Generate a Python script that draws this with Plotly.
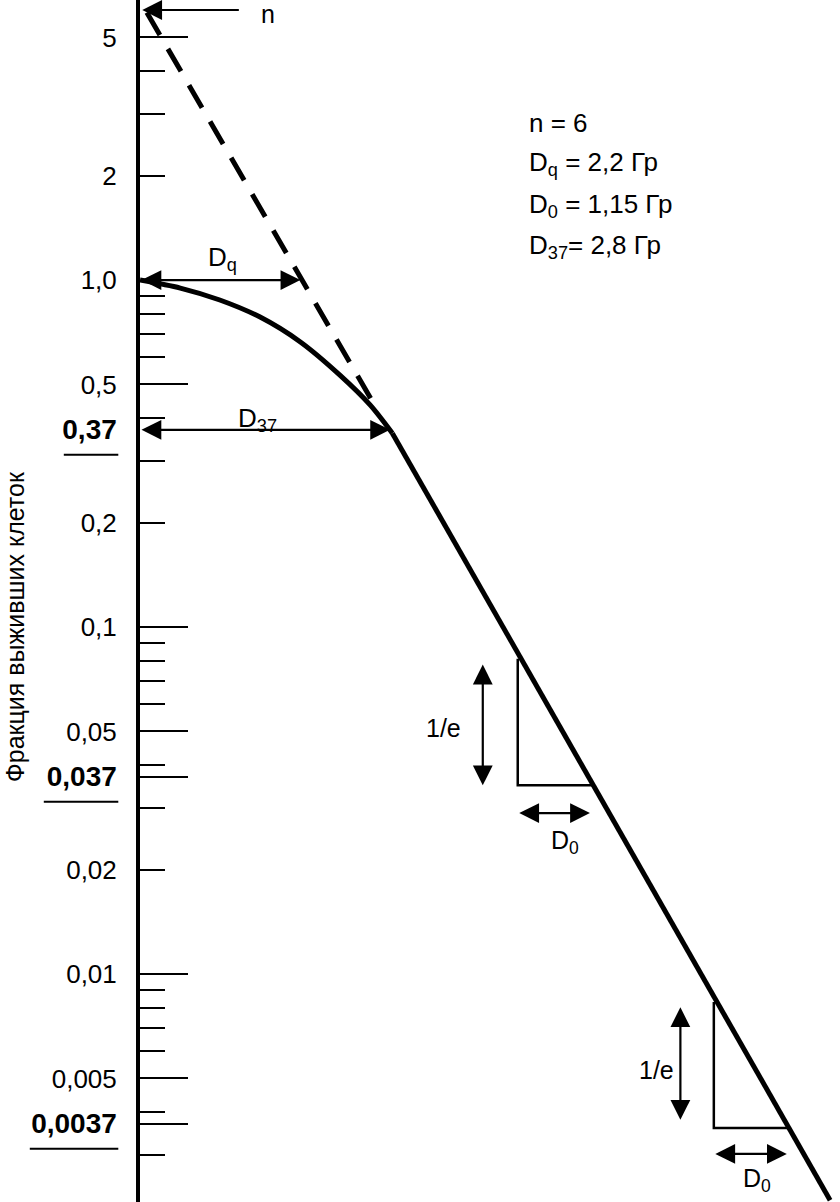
import numpy as np
import plotly.graph_objects as go

# ---------------- data ----------------
# dose axis is schematic (hidden); surviving fraction on log axis
shoulder_dose = [0.00, 0.53, 1.05, 1.58, 2.11, 2.63, 3.03, 3.32]
shoulder_surv = [1.0, 0.948, 0.876, 0.782, 0.663, 0.532, 0.436, 0.362]

line_dose = [3.32, 9.08]
line_surv = [0.362, 0.00223]

extrap_dose = [0.09, 3.07]
extrap_surv = [5.9, 0.442]

tri1_dose = [4.97, 4.97, 5.95]
tri1_surv = [0.081, 0.035, 0.035]
tri2_dose = [7.55, 7.55, 8.54]
tri2_surv = [0.0083, 0.0036, 0.0036]

n_value = 6.0
dq_dose = 2.11
d37_dose = 3.29
d37_surv = 0.37
inv_e_1 = dict(dose=4.51, top=0.0787, bottom=0.035)
inv_e_2 = dict(dose=7.11, top=0.0081, bottom=0.0038)
d0_1 = dict(surv=0.0291, start=4.97, end=5.92)
d0_2 = dict(surv=0.00303, start=7.55, end=8.51)

tick_vals = [5, 2, 1, 0.5, 0.37, 0.2, 0.1, 0.05, 0.037, 0.02, 0.01, 0.005, 0.0037]
tick_text = ["5", "2", "1,0", "0,5", "0,37", "0,2", "0,1", "0,05", "0,037",
             "0,02", "0,01", "0,005", "0,0037"]
bold_ticks = [0.37, 0.037, 0.0037]
long_ticks = [5, 0.5, 0.1, 0.05, 0.037, 0.01, 0.005, 0.0037]
short_ticks = [4, 3, 2, 0.9, 0.8, 0.7, 0.6, 0.4, 0.3, 0.2, 0.09, 0.08, 0.07, 0.06,
               0.04, 0.03, 0.02, 0.009, 0.008, 0.007, 0.006, 0.004, 0.003]

params = ["n = 6", "D<sub>q</sub> = 2,2 Гр", "D<sub>0</sub> = 1,15 Гр", "D<sub>37</sub>= 2,8 Гр"]
y_title = "Фракция выживших клеток"

# ---------------- figure ----------------
FONT = "Liberation Sans, Arial, sans-serif"
Y_RANGE = [-2.657, 0.807]
X_RANGE = [0, 9.21]

fig = go.Figure()
fig.add_trace(go.Scatter(x=shoulder_dose, y=shoulder_surv, mode="lines",
                         line=dict(color="black", width=5, shape="spline", smoothing=0.8),
                         hoverinfo="skip"))
fig.add_trace(go.Scatter(x=line_dose, y=line_surv, mode="lines",
                         line=dict(color="black", width=5), hoverinfo="skip"))
fig.add_trace(go.Scatter(x=extrap_dose, y=extrap_surv, mode="lines",
                         line=dict(color="black", width=5, dash="26px,16px"), hoverinfo="skip"))
for td, ts in [(tri1_dose, tri1_surv), (tri2_dose, tri2_surv)]:
    fig.add_trace(go.Scatter(x=td, y=ts, mode="lines",
                             line=dict(color="black", width=2.5), hoverinfo="skip"))
fig.add_trace(go.Scatter(x=[0], y=[1], yaxis="y2", mode="markers",
                         marker=dict(opacity=0), hoverinfo="skip"))

ticktext_fmt = []
for v, t in zip(tick_vals, tick_text):
    if v in bold_ticks:
        ticktext_fmt.append(f"<span style='font-size:28px'><b>{t}</b></span>")
    else:
        ticktext_fmt.append(t)

fig.update_layout(
    width=840, height=1202,
    margin=dict(l=140, r=0, t=0, b=0),
    plot_bgcolor="white", paper_bgcolor="white",
    showlegend=False,
    font=dict(family=FONT, color="black"),
    xaxis=dict(range=X_RANGE, visible=False),
    yaxis=dict(type="log", range=Y_RANGE, tickmode="array", tickvals=tick_vals,
               ticktext=ticktext_fmt, ticks="", showgrid=False, zeroline=False,
               showline=True, linecolor="black", linewidth=4,
               tickfont=dict(size=26, family=FONT, color="black"),
               ticklabelstandoff=14),
    yaxis2=dict(type="log", range=Y_RANGE, overlaying="y", side="left", anchor="x",
                tickmode="array", tickvals=long_ticks, ticks="inside", ticklen=48,
                tickwidth=2, tickcolor="black", showticklabels=False, showgrid=False,
                zeroline=False, showline=False,
                minor=dict(tickmode="array", tickvals=short_ticks, ticks="inside",
                           ticklen=25, tickwidth=2, tickcolor="black", showgrid=False)),
)

ann = []
ARW = dict(showarrow=True, arrowhead=2, arrowsize=1.8, arrowwidth=2.2, arrowcolor="black",
           startarrowhead=2, startarrowsize=1.8,
           xref="x", yref="y", axref="x", ayref="y", text="")

def lg(v):
    return float(np.log10(v))

# n arrow (single head towards the axis)
ann.append(dict(ARW, x=0.03, y=lg(n_value), ax=1.32, ay=lg(n_value)))
# Dq arrow
ann.append(dict(ARW, x=dq_dose, y=0, ax=0.0, ay=0, arrowside="end+start"))
# D37 arrow
ann.append(dict(ARW, x=d37_dose, y=lg(d37_surv), ax=0.0, ay=lg(d37_surv), arrowside="end+start"))
# 1/e arrows
for a in (inv_e_1, inv_e_2):
    ann.append(dict(ARW, x=a["dose"], y=lg(a["bottom"]), ax=a["dose"], ay=lg(a["top"]),
                    arrowside="end+start"))
# D0 arrows
for a in (d0_1, d0_2):
    ann.append(dict(ARW, x=a["end"], y=lg(a["surv"]), ax=a["start"], ay=lg(a["surv"]),
                    arrowside="end+start"))

# labels
def label(text, x, y, size):
    return dict(text=text, x=x, y=y, xref="x", yref="y", showarrow=False,
                font=dict(size=size, family=FONT, color="black"),
                xanchor="center", yanchor="middle")

ann.append(label("n", 1.68, lg(5.84), 25))
ann.append(label("D<sub>q</sub>", 1.08, 0.0634, 26))
ann.append(label("D<sub>37</sub>", 1.55, -0.403, 26))
ann.append(label("1/e", 3.99, -1.291, 25))
ann.append(label("D<sub>0</sub>", 5.59, -1.62, 25))
ann.append(label("1/e", 6.80, -2.277, 25))
ann.append(label("D<sub>0</sub>", 8.12, -2.594, 25))

# parameters block
for txt, yp in zip(params, [0.898, 0.864, 0.829, 0.795]):
    ann.append(dict(text=txt, x=0.553, y=yp, xref="paper", yref="paper", showarrow=False,
                    xanchor="left", yanchor="middle",
                    font=dict(size=26, family=FONT, color="black")))

# axis title
ann.append(dict(text=y_title, x=-0.1786, y=0.479, xref="paper", yref="paper",
                showarrow=False, textangle=-90, xanchor="center", yanchor="middle",
                font=dict(size=25, family=FONT, color="black")))

# underlines of the bold tick labels
for v, length in zip(bold_ticks, [56, 76, 90]):
    ann.append(dict(text="", x=-0.031, y=lg(v), xref="paper", yref="y", yshift=-25,
                    showarrow=True, arrowhead=0, arrowwidth=2, arrowcolor="black",
                    ax=-length, ay=0, axref="pixel", ayref="pixel"))

fig.update_layout(annotations=ann)
fig.write_html("out.html", post_script="document.body.style.margin='0px';",
               config={"displayModeBar": False})
